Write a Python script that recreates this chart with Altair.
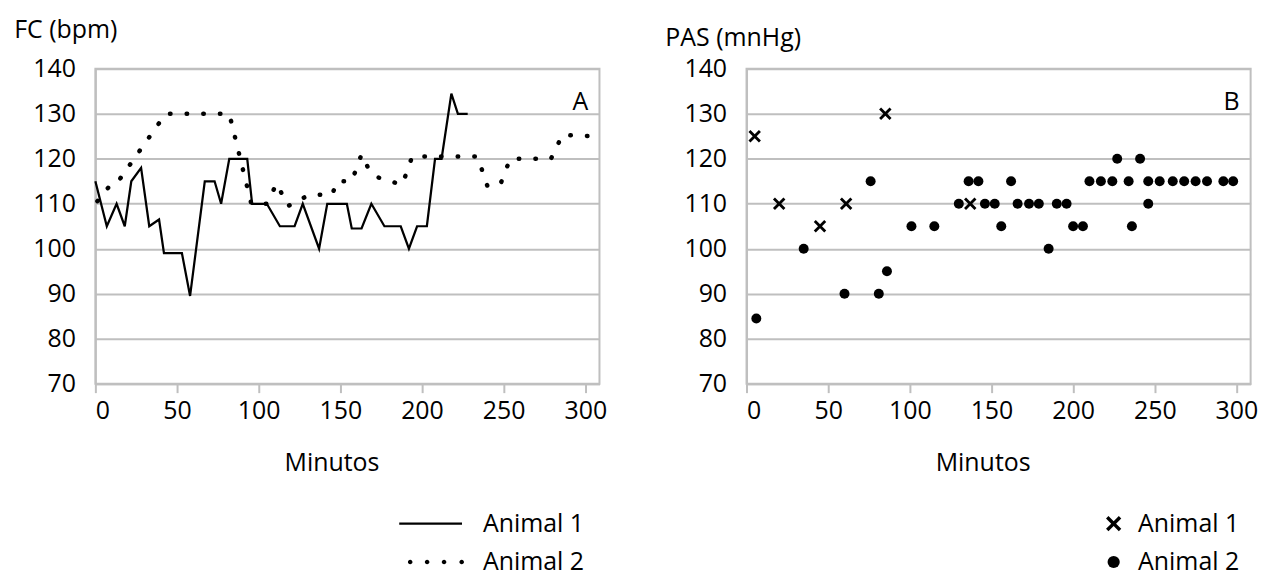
import altair as alt
import pandas as pd

# ---------------- Panel A : FC (bpm) ----------------
a1_min = [0, 7, 13, 18, 22, 28, 33, 39, 42, 53, 58, 67, 73, 77, 82, 93, 96, 105, 113, 122,
          127, 137, 142, 154, 157, 163, 169, 177, 187, 192, 197, 203, 208, 212, 218, 222, 228]
a1_fc = [115, 105, 110, 105, 115, 118, 105, 106.5, 99, 99, 89.5, 115, 115, 110, 120, 120, 110, 110, 105, 105,
         110, 100, 110, 110, 104.5, 104.5, 110, 105, 105, 100, 105, 105, 120, 120, 134.5, 130, 130]

a2_min = [0, 11, 15, 43, 82, 95.5, 105, 111, 118, 131, 145, 148, 157, 163, 167, 172, 180,
          188, 194, 234, 240, 248, 254, 279, 286, 305]
a2_fc = [110, 115, 115.5, 130, 130, 110, 110, 114.5, 109.5, 112, 112, 115, 115, 121, 118, 116, 115,
         114.3, 120.5, 120.5, 114, 114.3, 120, 120, 125.3, 125]

# ---------------- Panel B : PAS (mmHg) ----------------
b1_min = [5, 20, 45, 61, 85, 137]
b1_pas = [125, 110, 105, 110, 130, 110]

b2_min = [6, 35, 60, 76, 81, 86, 101, 115, 130, 136, 142, 146, 152, 156, 162, 166, 173, 179, 185, 190,
          196, 200, 206, 210, 217, 224, 227, 234, 236, 241, 246, 246, 253, 261, 268, 275, 282, 292, 298]
b2_pas = [84.5, 100, 90, 115, 90, 95, 105, 105, 110, 115, 115, 110, 110, 105, 115, 110, 110, 110, 100, 110,
          110, 105, 105, 115, 115, 115, 120, 115, 105, 120, 110, 115, 115, 115, 115, 115, 115, 115, 115]

series = ["Animal 1", "Animal 2"]
x_ticks = [0, 50, 100, 150, 200, 250, 300]
y_ticks = [70, 80, 90, 100, 110, 120, 130, 140]
x_domain = [0, 308.7]
y_domain = [70, 140]
panel_labels = ["A", "B"]
panel_label_x = [297, 297]
panel_label_y = [132.7, 132.7]

# ---------------- styling ----------------
FONT = "Open Sans"
FS = 25
GRID = "#bfbfbf"
INK = "#000000"


def circ(cx, r):
    return f"M{cx - r},0a{r},{r} 0 1,0 {2 * r},0a{r},{r} 0 1,0 {-2 * r},0Z"


LINE_SYM = "M-3.1,-0.115L3.2,-0.115L3.2,0.115L-3.1,0.115Z"
DOTS_SYM = "".join(circ(c, 0.23) for c in [-2.0, -0.3, 1.4, 3.17])
e, d = 1.25, 0.4
X_SYM = (f"M{-e},{-e + d}L{-e + d},{-e}L0,{-d}L{e - d},{-e}L{e},{-e + d}L{d},0L{e},{e - d}L{e - d},{e}"
         f"L0,{d}L{-e + d},{e}L{-e},{e - d}L{-d},0Z")

df_a1 = pd.DataFrame({"min": a1_min, "val": a1_fc, "animal": series[0]})
df_a2 = pd.DataFrame({"min": a2_min, "val": a2_fc, "animal": series[1]})
df_a = pd.concat([df_a1, df_a2])
df_b = pd.concat([
    pd.DataFrame({"min": b1_min, "val": b1_pas, "animal": series[0]}),
    pd.DataFrame({"min": b2_min, "val": b2_pas, "animal": series[1]}),
])
df_lab_a = pd.DataFrame({"min": [panel_label_x[0]], "val": [panel_label_y[0]], "t": [panel_labels[0]]})
df_lab_b = pd.DataFrame({"min": [panel_label_x[1]], "val": [panel_label_y[1]], "t": [panel_labels[1]]})

xscale = alt.Scale(domain=x_domain, nice=False, zero=False)
yscale = alt.Scale(domain=y_domain, nice=False, zero=False)


def x_axis():
    return alt.Axis(values=x_ticks, title="Minutos", grid=False, domain=True,
                    domainColor=GRID, domainWidth=2, ticks=True, tickColor=GRID,
                    tickWidth=2, tickSize=9, labelPadding=6,
                    titleX=237, titleY=87, titleAlign="center", titleBaseline="alphabetic")


def y_axis(title, ty):
    return alt.Axis(values=y_ticks, title=title, titleAngle=0, titleX=-82, titleY=ty,
                    titleAlign="left", titleBaseline="alphabetic",
                    grid=True, gridColor=GRID, gridWidth=2, ticks=False, tickSize=0,
                    domain=True, domainColor=GRID, domainWidth=2, labelPadding=20)


X = alt.X("min:Q", scale=xscale, axis=x_axis())

# ---- left panel ----
line1 = alt.Chart(df_a1).mark_line(color=INK, strokeWidth=2.25).encode(
    x=X, y=alt.Y("val:Q", scale=yscale, axis=y_axis("FC (bpm)", -31)))
line2 = alt.Chart(df_a2).mark_line(color=INK, strokeWidth=4.5, strokeDash=[0.5, 16.2],
                                   strokeCap="round", strokeDashOffset=13.4).encode(
    x="min:Q", y="val:Q")
leg_a = alt.Chart(df_a).transform_filter("false").mark_point(
    filled=True, opacity=1, color=INK, strokeWidth=0).encode(
    x="min:Q", y="val:Q",
    shape=alt.Shape("animal:N",
                    scale=alt.Scale(domain=series, range=[LINE_SYM, DOTS_SYM]),
                    legend=alt.Legend(title=None, orient="none", legendX=323.5, legendY=444,
                                      symbolSize=400, symbolStrokeWidth=0,
                                      symbolFillColor=INK, labelOffset=40.5,
                                      rowPadding=12.5, padding=0)))
lab_a = alt.Chart(df_lab_a).mark_text(font=FONT, fontSize=FS, color=INK, align="center",
                                      baseline="middle").encode(x="min:Q", y="val:Q", text="t:N")
left = alt.layer(line1, line2, leg_a, lab_a).properties(width=506, height=316)

# ---- right panel ----
pts = alt.Chart(df_b).mark_point(filled=True, opacity=1, color=INK, size=100, strokeWidth=0).encode(
    x=alt.X("min:Q", scale=xscale, axis=x_axis()),
    y=alt.Y("val:Q", scale=yscale, axis=y_axis("PAS (mnHg)", -23)),
    shape=alt.Shape("animal:N",
                    scale=alt.Scale(domain=series, range=[X_SYM, "circle"]),
                    legend=alt.Legend(title=None, orient="none", legendX=356, legendY=444,
                                      symbolSize=150, symbolStrokeWidth=0,
                                      symbolFillColor=INK, labelOffset=12,
                                      rowPadding=12.5, padding=0)))
lab_b = alt.Chart(df_lab_b).mark_text(font=FONT, fontSize=FS, color=INK, align="center",
                                      baseline="middle").encode(x="min:Q", y="val:Q", text="t:N")
right = alt.layer(pts, lab_b).properties(width=506, height=316)

chart = alt.hconcat(left, right, spacing=147.6, bounds="flush").resolve_scale(
    shape="independent").resolve_legend(shape="independent").properties(
    padding={"left": 4.7, "top": 8, "right": 0, "bottom": 0}
).configure_view(stroke=GRID, strokeWidth=2).configure_axis(
    labelFont=FONT, labelFontSize=FS, labelColor=INK,
    titleFont=FONT, titleFontSize=FS, titleColor=INK, titleFontWeight="normal"
).configure_legend(labelFont=FONT, labelFontSize=FS, labelColor=INK)

chart.save("out.html", embed_options={"renderer": "svg", "actions": False})
